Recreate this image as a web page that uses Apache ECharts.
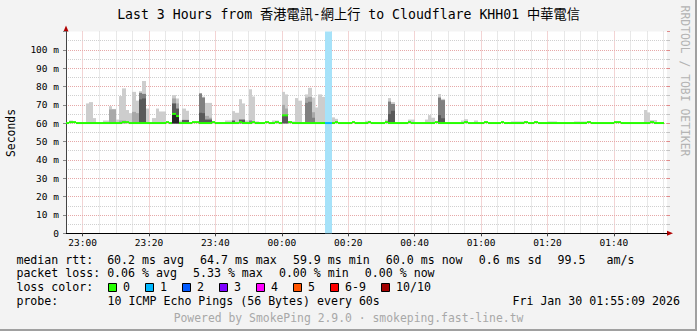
<!DOCTYPE html>
<html><head><meta charset="utf-8">
<script src="https://cdn.jsdelivr.net/npm/echarts@6/dist/echarts.min.js"></script>
<style>
html,body{margin:0;padding:0;background:#f3f3f3;}
#wrap{position:relative;width:697px;height:331px;overflow:hidden;background:#f3f3f3;}
#chart{position:absolute;left:0;top:0;width:697px;height:331px;}
.bR{position:absolute;right:0;top:0;width:2px;height:331px;background:#a0a0a0;}
.bB{position:absolute;left:0;bottom:0;width:697px;height:2px;background:#a0a0a0;}
</style></head>
<body><div id="wrap"><div id="chart"></div><div class="bR"></div><div class="bB"></div></div>
<script>
// ---------------- data ----------------
const startTime = '22:55';                 // first minute on the axis
const minuteCount = 181;                   // minutes shown
const tickLabels = ['23:00','23:20','23:40','00:00','00:20','00:40','01:00','01:20','01:40'];
const yTickLabels = ['0','10 m','20 m','30 m','40 m','50 m','60 m','70 m','80 m','90 m','100 m'];
const minRtt = 59.9;                        // bottom of the smoke (ms)

// median rtt per minute (ms)
const medianRtt = [
 60.1,60.6,60.6,60.1,60.1,60.1,60.1,60.1,60.1,60.1, 60.1,60.1,60.1,60.1,60.1,60.1,60.1,60.6,60.6,60.1,
 60.1,60.1,60.1,60.1,60.1,60.1,60.1,60.1,60.1,60.1, 60.6,60.1,65.1,63.9,60.1,60.1,60.1,60.1,60.6,60.6,
 60.1,60.1,60.1,60.1,60.6,60.1,60.1,60.1,60.1,60.1, 60.1,60.1,60.6,60.1,60.1,60.1,60.6,60.1,60.1,60.1,
 60.6,60.1,60.1,60.6,60.1,64.3,64.3,60.6,60.1,60.1, 60.1,60.1,60.1,60.1,60.1,60.1,60.1,60.1,60.1,60.1,
 60.1,60.6,60.1,60.1,60.1,60.1,60.6,60.1,60.1,60.1, 60.1,60.6,60.1,60.1,60.1,60.1,60.6,60.1,60.1,60.1,
 60.1,60.1,60.1,60.6,60.1,60.1,60.1,60.1,60.1,60.1, 60.1,60.6,60.1,60.1,60.1,60.1,60.1,60.1,60.1,60.1,
 60.6,60.1,60.1,60.1,60.1,60.1,60.6,60.1,60.1,60.1, 60.1,60.6,60.1,60.1,60.1,60.1,60.1,60.1,60.6,60.1,
 60.1,60.6,60.1,60.1,60.1,60.1,60.1,60.1,60.1,60.1, 60.1,60.1,60.1,60.1,60.1,60.1,60.1,60.6,60.1,60.1,
 60.1,60.1,60.1,60.1,60.1,60.6,60.6,60.1,60.1,60.1, 60.1,60.1,60.1,60.1,60.1,60.1,60.6,60.1,60.1,60.1
];

// smoke: [minute index, top of band (ms)], lightest (max ping) to darkest
const smokeMax = [[1,61.5],[6,70.8],[7,71.5],[8,62.8],[11,61.5],[12,61.5],[13,69.3],[14,67.8],[15,62],[16,74.8],[17,79],[18,67.2],[19,65.5],[20,77.1],[21,72.3],[22,77.5],[23,83],[24,68],[26,62.8],[27,68],[28,66.4],[29,66.4],[32,75.3],[33,73.5],[34,61.5],[35,68],[36,66.8],[40,76.5],[41,74.5],[42,71.1],[43,71.1],[44,61],[48,61.5],[49,61.5],[50,66.6],[51,65.7],[52,73.1],[53,70.8],[54,61.5],[55,78.5],[56,74.6],[57,61],[62,61.5],[63,61.5],[65,77.1],[66,75.7],[67,61],[68,61],[69,73.7],[70,72.3],[72,75.7],[73,79.3],[74,74],[75,68.6],[76,75.7],[77,74.4],[78,61.6],[80,63.2],[81,62.4],[90,61.3],[91,61.3],[96,62],[97,73.7],[98,71.5],[103,62],[104,62],[108,62],[109,64.4],[110,63],[112,75.9],[113,73.3],[119,61.5],[120,62.2],[123,61.5],[134,61],[135,61],[136,61],[137,61],[145,61],[146,61],[147,61],[153,61],[154,61],[155,61],[156,61],[174,67.2],[175,65.9],[176,61.7],[177,61.7]];
const smoke2 = [[13,67.5],[14,67.5],[16,61.5],[17,61.5],[20,66.2],[21,65.5],[32,73.5],[33,70.8],[42,64],[43,63],[65,70],[66,68],[72,73.9],[73,74.4],[74,66]];
const smoke3 = [[22,76.6],[23,76],[40,76.2],[41,74],[55,61.5],[72,71.1],[73,71.7],[74,63],[97,71.8],[98,70.5],[112,74],[113,72.6]];
const smoke4 = [[22,73],[23,73.5],[32,70.8],[33,68],[35,61.8],[36,61.8],[40,65.7],[41,65.5],[42,62],[43,62],[50,61.5],[52,62],[53,62],[65,64.4],[66,64.4],[97,65],[98,66.8],[112,64.4],[113,62.7]];
const smoke5 = [[32,65.3],[33,63.5]];

// packet loss: [minute index, lost pings]
const lossMinutes = [[78,1],[79,1]];
const lossColors = ['#26ff00','#00b8ff','#0059ff','#7e00ff','#ff00ff','#ff5500','#ff0000','#a10000'];
const lossLabels = ['0','1','2','3','4','5','6-9','10/10'];

// ---------------- chart ----------------
function pad(n){return (n<10?'0':'')+n;}
const [sh, sm] = startTime.split(':').map(Number);
const minuteCats = [], boundaryCats = [];
for (let k = 0; k <= minuteCount; k++) {
  const m = (sh*60 + sm + k) % 1440;
  const s = pad(Math.floor(m/60)) + ':' + pad(m % 60);
  if (k < minuteCount) minuteCats.push(s);
  boundaryCats.push(s);
}
const mono = '"DejaVu Sans Mono", "Noto Sans CJK TC", monospace';
const lossMap = {}; lossMinutes.forEach(d => lossMap[d[0]] = d[1]);

function bandX(api, i){
  const c = api.coord([i, 0])[0]; const w = api.size([1, 0])[0];
  const x0 = Math.round(c - w/2), x1 = Math.round(c + w/2);
  return [x0, x1];
}
function smokeSeries(data, color){
  return {
    type:'custom', xAxisIndex:0, yAxisIndex:0, silent:true, animation:false, z:2,
    data: data.map(d => [d[0], d[1], minRtt]), encode:{x:0, y:[1,2]},
    renderItem: (params, api) => {
      const i = api.value(0); const [x0, x1] = bandX(api, i);
      const yt = api.coord([i, api.value(1)])[1]; const yb = api.coord([i, api.value(2)])[1];
      return {type:'rect', shape:{x:x0, y:yt, width:x1-x0, height:yb-yt}, style:{fill:color}};
    }
  };
}

const chart = echarts.init(document.getElementById('chart'), null, {renderer:'svg'});
const minorFn = (i) => i % 5 === 0 && !tickLabels.includes(boundaryCats[i]);
const majorFn = (i) => tickLabels.includes(boundaryCats[i]);

const graphics = [];
const LF = 11.6;
function txt(x, y, s, extra){
  graphics.push({type:'text', x, y, silent:true, style:Object.assign({text:s, fontFamily:mono, fontSize:LF, fill:'#000', align:'left', verticalAlign:'middle'}, extra||{})});
}
txt(348.5, 14.7, 'Last 3 Hours from 香港電訊-網上行 to Cloudflare KHH01 中華電信', {fontSize:13.2, align:'center'});
graphics.push({type:'text', x:10.5, y:133, rotation:Math.PI/2, silent:true, style:{text:'Seconds', fontFamily:mono, fontSize:11.4, fill:'#000', align:'center', verticalAlign:'middle'}});
graphics.push({type:'text', x:684.5, y:81, rotation:-Math.PI/2, silent:true, style:{text:'RRDTOOL / TOBI OETIKER', fontFamily:mono, fontSize:11.4, fill:'#b4b4b4', align:'center', verticalAlign:'middle'}});
const L1 = 259.7, L2 = 273.3, L3 = 287.3, L4 = 301, L5 = 317.7;
txt(16.4, L1, 'median rtt:  60.2 ms avg'); txt(200, L1, '64.7 ms max'); txt(292.9, L1, '59.9 ms min');
txt(385.8, L1, '60.0 ms now'); txt(478.7, L1, '0.6 ms sd'); txt(557.6, L1, '99.5   am/s');
txt(16.4, L2, 'packet loss: 0.06 % avg'); txt(193, L2, '5.33 % max'); txt(278.9, L2, '0.00 % min'); txt(364.8, L2, '0.00 % now');
txt(16.4, L3, 'loss color:');
const sqX = [108.5,145.5,182.5,219.5,256.5,293.5,330.5,381.5];
lossColors.forEach((c, k) => {
  graphics.push({type:'rect', silent:true, shape:{x:sqX[k], y:283.5, width:8, height:8}, style:{fill:c, stroke:'#000', lineWidth:1}});
  txt(sqX[k] + 14.5, L3, lossLabels[k]);
});
txt(16.4, L4, 'probe:'); txt(107.6, L4, '10 ICMP Echo Pings (56 Bytes) every 60s');
txt(680, L4, 'Fri Jan 30 01:55:09 2026', {align:'right'});
txt(348.5, L5, 'Powered by SmokePing 2.9.0 · smokeping.fast-line.tw', {align:'center', fill:'#a8a8a8', fontSize:11.4});

const redGrid = '#e6a8a8', grayGrid = '#d0d0d0';
const option = {
  animation:false,
  backgroundColor:'#f3f3f3',
  grid:{left:66, top:31.5, width:601, height:201.8, show:true, backgroundColor:'#ffffff', borderWidth:0},
  xAxis:[
    {type:'category', data:minuteCats, boundaryGap:true, show:false},
    {type:'category', data:boundaryCats, boundaryGap:false, position:'bottom', z:0,
     axisLine:{show:true, symbol:['none','triangle'], symbolSize:[5,6], symbolOffset:[0,3], lineStyle:{color:'#b00000', width:1}},
     axisTick:{show:false}, axisLabel:{show:false},
     splitLine:{show:true, interval:(i)=>majorFn(i), lineStyle:{color:redGrid, type:[1,1], width:1}}},
    {type:'category', data:boundaryCats, boundaryGap:false, position:'bottom', z:1,
     axisLine:{show:true, lineStyle:{color:'#000', width:1}},
     axisTick:{show:true, interval:(i)=>majorFn(i), length:3, lineStyle:{color:'#444'}},
     axisLabel:{interval:(i)=>majorFn(i), fontFamily:mono, fontSize:9.5, color:'#000', margin:4},
     splitLine:{show:true, interval:(i)=>minorFn(i), lineStyle:{color:grayGrid, type:[1,1], width:1}}}
  ],
  yAxis:[
    {type:'value', min:0, max:110, interval:10, position:'left', z:1,
     axisLine:{show:true, lineStyle:{color:'#444', width:1}},
     axisTick:{show:true, length:3, lineStyle:{color:'#888'}},
     axisLabel:{fontFamily:mono, fontSize:9.5, color:'#000', margin:7,
       formatter:(v)=> { const k = Math.round(v/10); return k < yTickLabels.length ? yTickLabels[k] : ''; }},
     splitLine:{show:true, showMaxLine:false, lineStyle:{color:redGrid, type:[1,1], width:1}},
     minorTick:{show:false, splitNumber:2},
     minorSplitLine:{show:true, lineStyle:{color:grayGrid, type:[1,1], width:1}}},
    {type:'value', min:0, max:110, interval:10, position:'left', z:0,
     axisLine:{show:true, symbol:['none','triangle'], symbolSize:[5,6], symbolOffset:[0,3], lineStyle:{color:'#b00000', width:1}},
     axisTick:{show:false}, axisLabel:{show:false}, splitLine:{show:false}},
    {type:'value', min:0, max:110, interval:10, position:'right', z:0,
     axisLine:{show:false}, axisLabel:{show:false}, splitLine:{show:false},
     axisTick:{show:true, length:3, lineStyle:{color:'#e08a8a'}},
     minorTick:{show:true, splitNumber:2, length:3, lineStyle:{color:'#c4c4c4'}}}
  ],
  series:[
    smokeSeries(smokeMax, '#cdcdcd'),
    smokeSeries(smoke2, '#a8a8a8'),
    smokeSeries(smoke3, '#808080'),
    smokeSeries(smoke4, '#595959'),
    smokeSeries(smoke5, '#262626'),
    {type:'custom', xAxisIndex:0, yAxisIndex:0, silent:true, animation:false, z:2,
     data: lossMinutes.map(d => [d[0], d[1]]), encode:{x:0, y:1},
     renderItem:(params, api) => {
       const i = api.value(0); const [x0, x1] = bandX(api, i); const cs = params.coordSys;
       return {type:'rect', shape:{x:x0, y:cs.y, width:x1-x0, height:cs.height}, style:{fill:'#a6e2f9'}};
     }},
    {type:'custom', xAxisIndex:0, yAxisIndex:0, silent:true, animation:false, z:3,
     data: medianRtt.map((v, i) => [i, v]), encode:{x:0, y:1},
     renderItem:(params, api) => {
       const i = api.value(0); const [x0, x1] = bandX(api, i);
       const y = api.coord([i, api.value(1)])[1];
       const loss = lossMap[i] || 0;
       const col = lossColors[Math.min(loss, 7)];
       return {type:'rect', shape:{x:x0, y:y-1, width:x1-x0, height:2}, style:{fill:col}};
     }}
  ],
  graphic: graphics
};
chart.setOption(option);
</script></body></html>
